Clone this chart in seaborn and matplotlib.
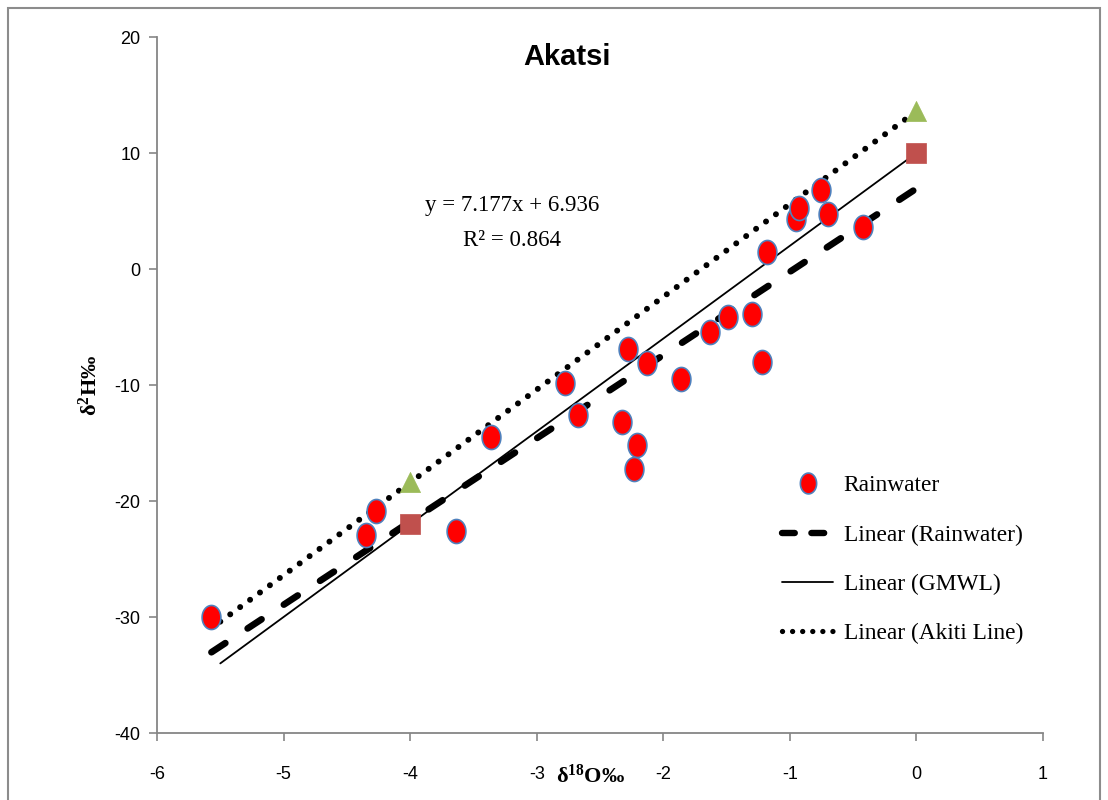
import numpy as np
import pandas as pd
import matplotlib
matplotlib.use("Agg")
import matplotlib.pyplot as plt
import seaborn as sns
from matplotlib.path import Path
from matplotlib.lines import Line2D
from matplotlib.patches import Rectangle

# ---------------- data ----------------
rain_o18 = [-5.57, -4.35, -4.27, -3.64, -3.36, -2.78, -2.67, -2.33, -2.28, -2.21,
            -2.23, -2.13, -1.86, -1.63, -1.49, -1.30, -1.22, -1.18, -0.95, -0.93,
            -0.75, -0.70, -0.42]
rain_h2 = [-30.0, -22.9, -20.9, -22.6, -14.5, -9.8, -12.6, -13.2, -6.9, -15.2,
           -17.2, -8.1, -9.5, -5.4, -4.1, -3.9, -8.0, 1.5, 4.3, 5.3,
           6.8, 4.7, 3.6]
gmwl_o18 = [-4.0, 0.0]
gmwl_h2 = [-22.0, 10.0]
akiti_o18 = [-4.0, 0.0]
akiti_h2 = [-18.4, 13.6]
rain_slope = 7.177
rain_intercept = 6.936
rain_r2 = 0.864
x_ticks = [-6, -5, -4, -3, -2, -1, 0, 1]
y_ticks = [-40, -30, -20, -10, 0, 10, 20]

# ---------------- style ----------------
sns.set_theme(style="white")
plt.rcParams['font.family'] = ['Liberation Sans Narrow', 'Liberation Sans', 'DejaVu Sans']
plt.rcParams['text.color'] = 'black'
plt.rcParams['axes.labelcolor'] = 'black'
plt.rcParams['mathtext.fontset'] = 'custom'
plt.rcParams['mathtext.rm'] = 'Liberation Serif'
plt.rcParams['mathtext.bf'] = 'Liberation Serif:bold'
plt.rcParams['mathtext.it'] = 'Liberation Serif:italic'

W, H = 1108, 800
fig = plt.figure(figsize=(W / 100, H / 100), dpi=100)
ax = fig.add_axes([157 / W, 1 - 733 / H, (1043 - 157) / W, (733 - 37) / H])

# outer border
fig.patches.append(Rectangle((8 / W, -0.01), (1100 - 8) / W, 1 - 8 / H + 0.01,
                             transform=fig.transFigure, fill=False,
                             edgecolor='#8c8c8c', lw=1.5))

# ellipse marker
t = np.linspace(0, 2 * np.pi, 60)
ell = Path(np.column_stack([0.78 * np.cos(t), np.sin(t)]), closed=True)

gray = '#868686'

# trend lines
xr = np.array([min(rain_o18), 0.0])
df_rain_line = pd.DataFrame({'x': xr, 'y': rain_slope * xr + rain_intercept})
sns.lineplot(data=df_rain_line, x='x', y='y', ax=ax, color='black', lw=4.8,
             dashes=False, sort=False)
rain_line = ax.lines[-1]
rain_line.set_dashes((2.5, 4.0))
rain_line.set_dash_capstyle('round')

g_m = (gmwl_h2[1] - gmwl_h2[0]) / (gmwl_o18[1] - gmwl_o18[0])
g_b = gmwl_h2[1] - g_m * gmwl_o18[1]
xg = np.array([-5.5, 0.0])
sns.lineplot(x=xg, y=g_m * xg + g_b, ax=ax, color='black', lw=1.3, sort=False)

a_m = (akiti_h2[1] - akiti_h2[0]) / (akiti_o18[1] - akiti_o18[0])
a_b = akiti_h2[1] - a_m * akiti_o18[1]
sns.lineplot(x=xg, y=a_m * xg + a_b, ax=ax, color='black', lw=4.3, sort=False)
ak_line = ax.lines[-1]
ak_line.set_dashes((0.01, 2.05))
ak_line.set_dash_capstyle('round')

# points
sns.scatterplot(x=gmwl_o18, y=gmwl_h2, ax=ax, marker='s', s=190,
                color='#C0504D', edgecolor='#C0504D', linewidth=0.5, zorder=5)
sns.scatterplot(x=akiti_o18, y=akiti_h2, ax=ax, marker='^', s=210,
                color='#9BBB59', edgecolor='#9BBB59', linewidth=0.5, zorder=5)
sns.scatterplot(x=rain_o18, y=rain_h2, ax=ax, marker=ell, s=300,
                color='#FF0000', edgecolor='#4F81BD', linewidth=1.2, zorder=6)

# axes
ax.set_xlim(-6, 1)
ax.set_ylim(-40, 20)
ax.set_xticks(x_ticks)
ax.set_yticks(y_ticks)
ax.set_xticklabels([str(v) for v in x_ticks])
ax.set_yticklabels([str(v) for v in y_ticks])
for s in ['top', 'right']:
    ax.spines[s].set_visible(False)
for s in ['left', 'bottom']:
    ax.spines[s].set_color(gray)
    ax.spines[s].set_linewidth(1.3)
ax.tick_params(axis='both', which='major', length=6, width=1.2, color=gray,
               labelsize=13, labelcolor='black', direction='out',
               left=True, bottom=True)
ax.tick_params(axis='x', pad=18)
ax.tick_params(axis='y', pad=6)
ax.grid(False)
ax.set_xlabel('')
ax.set_ylabel('')

fig.text(590 / W, 1 - 776 / H, r'$\mathbf{δ^{18}O‰}$', ha='center', va='center',
         fontsize=16, color='black')
fig.text(90 / W, 1 - 385 / H, r'$\mathbf{δ^{2}H‰}$', ha='center', va='center',
         fontsize=16, rotation=90, color='black')
fig.text(567 / W, 1 - 57 / H, 'Akatsi', ha='center', va='center', fontsize=21,
         fontweight='bold', color='black',
         family=['Liberation Sans Narrow', 'Liberation Sans', 'DejaVu Sans'])

fig.text(512 / W, 1 - 205 / H, f'y = {rain_slope}x + {rain_intercept}', ha='center',
         va='center', fontsize=16.5, family=['Liberation Serif'], color='black')
fig.text(512 / W, 1 - 240 / H, f'R² = {rain_r2}', ha='center',
         va='center', fontsize=16.5, family=['Liberation Serif'], color='black')

# legend
h_rain = Line2D([], [], ls='none', marker=ell, markersize=15, markerfacecolor='#FF0000',
                markeredgecolor='#4F81BD', markeredgewidth=1.2)
h_rl = Line2D([], [], color='black', lw=4.6, dashes=(2.0, 2.6), dash_capstyle='round')
h_gm = Line2D([], [], color='black', lw=1.3)
h_ak = Line2D([], [], color='black', lw=3.8, dashes=(0.01, 1.9), dash_capstyle='round')
leg = ax.legend([h_rain, h_rl, h_gm, h_ak],
                ['Rainwater', 'Linear (Rainwater)', 'Linear (GMWL)', 'Linear (Akiti Line)'],
                loc='upper left', bbox_to_anchor=(782 / W, 1 - 475 / H),
                bbox_transform=fig.transFigure, frameon=False,
                prop={'family': 'Liberation Serif', 'size': 16.8},
                handlelength=2.2, handletextpad=0.45, labelspacing=1.2,
                borderpad=0, borderaxespad=0)
for txt in leg.get_texts():
    txt.set_color('black')

fig.savefig('out.png', dpi=100)
